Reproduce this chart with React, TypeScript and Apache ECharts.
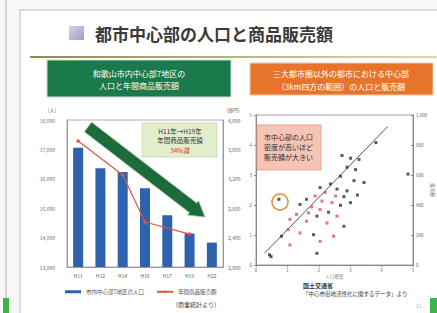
import React, { useEffect, useRef } from "react";
import * as echarts from "echarts";

const years = ["H11", "H12", "H14", "H16", "H17", "H19", "H22"];
const population = [17060, 16360, 16230, 15680, 14760, 14140, 13830];
const sales = [3714, null, 3252, 2612, null, 2448, null];
const popTicks = { min: 13000, max: 18000, interval: 1000 };
const salesTicks = { min: 2000, max: 4000, interval: 400 };

const scatterDark = [
  [3.82, 4.08], [2.74, 3.65], [3.01, 3.56], [3.28, 3.52], [2.9, 3.26], [3.17, 3.18],
  [2.69, 2.96], [4.84, 3.03], [3.12, 2.81], [3.44, 2.75], [2.37, 2.7], [2.04, 2.58],
  [2.58, 2.53], [2.9, 2.47], [2.8, 2.28], [3.23, 2.33], [1.61, 2.19], [3.01, 2.08],
  [2.69, 1.99], [1.4, 2.02], [2.31, 1.76], [1.94, 1.63], [2.8, 1.29], [1.83, 1.01],
  [0.81, 0.96], [1.94, 0.39], [0.43, 0.34], [0.48, 0.28], [0.73, 2.19],
];
const scatterPink = [
  [2.2, 2.42], [2.53, 2.3], [1.88, 2.3], [2.1, 2.13], [2.42, 2.08], [1.77, 1.94],
  [2.04, 1.85], [1.67, 1.74], [1.29, 1.69], [2.58, 1.63], [1.08, 1.52], [1.61, 1.46],
  [2.26, 1.4], [1.02, 1.18], [1.4, 1.07], [2.47, 0.96], [2.04, 0.79], [1.08, 0.67],
];
const trendLine = [[0.27, 0.39], [4.19, 4.61]];

const FONT = "'Noto Sans CJK JP', 'Noto Sans', sans-serif";

export default function App() {
  const ref = useRef<HTMLDivElement>(null);
  useEffect(() => {
    if (!ref.current) return;
    const chart = echarts.init(ref.current, null, { renderer: "svg" });
    const small = { fontSize: 5, color: "#666", fontFamily: FONT };
    chart.setOption({
      animation: false,
      backgroundColor: "#ffffff",
      textStyle: { fontFamily: FONT },
      legend: {
        left: 60,
        top: 284,
        itemWidth: 16,
        itemHeight: 3,
        itemGap: 12,
        textStyle: { fontSize: 5.5, color: "#555", fontFamily: FONT },
        data: [
          { name: "市内中心部7地区の人口", icon: "rect" },
          { name: "年間商品販売額" },
        ],
      },
      grid: [
        { left: 67, top: 120, width: 156, height: 147, show: true, borderColor: "#999", borderWidth: 0.8, backgroundColor: "#fff" },
        { left: 256, top: 115, width: 157, height: 150, show: true, borderColor: "#888", borderWidth: 0.8, backgroundColor: "#fff" },
      ],
      xAxis: [
        {
          type: "category", gridIndex: 0, data: years,
          axisLine: { lineStyle: { color: "#999" } }, axisTick: { show: false },
          axisLabel: { ...small, margin: 6 },
        },
        {
          type: "value", gridIndex: 1, min: 0, max: 5, interval: 1,
          axisLine: { lineStyle: { color: "#888" } }, axisTick: { length: 2 },
          splitLine: { show: false }, axisLabel: { ...small, fontSize: 4.5, margin: 3 },
          name: "人口密度", nameLocation: "middle", nameGap: 9,
          nameTextStyle: { fontSize: 4.5, color: "#777" },
        },
      ],
      yAxis: [
        {
          type: "value", gridIndex: 0, ...popTicks, name: "(人)", nameGap: 8,
          nameTextStyle: { fontSize: 5, color: "#666", padding: [0, 30, 0, 0] },
          axisLine: { show: true, lineStyle: { color: "#999" } }, axisTick: { show: false },
          splitLine: { show: false },
          axisLabel: { ...small, margin: 12, formatter: (v: number) => v.toLocaleString("en-US") },
        },
        {
          type: "value", gridIndex: 0, position: "right", ...salesTicks, name: "(億円)", nameGap: 8,
          nameTextStyle: { fontSize: 5, color: "#666", padding: [0, 0, 0, 20] },
          axisLine: { show: true, lineStyle: { color: "#999" } }, axisTick: { show: false },
          splitLine: { show: false },
          axisLabel: { ...small, margin: 5, formatter: (v: number) => v.toLocaleString("en-US") },
        },
        {
          type: "value", gridIndex: 1, min: 0, max: 5, interval: 1,
          axisLine: { show: true, lineStyle: { color: "#888" } }, axisTick: { length: 2 },
          splitLine: { show: false }, axisLabel: { ...small, fontSize: 4.5, margin: 4 },
        },
        {
          type: "value", gridIndex: 1, position: "right", min: 0, max: 5, interval: 1,
          axisLine: { show: true, lineStyle: { color: "#888" } }, axisTick: { length: 2, inside: true },
          splitLine: { show: false },
          axisLabel: { ...small, fontSize: 4.5, margin: 3, formatter: (v: number) => (v * 200).toLocaleString("en-US") },
          name: "販売額", nameLocation: "middle", nameGap: 14, nameRotate: -90,
          nameTextStyle: { fontSize: 4.5, color: "#777" },
        },
      ],
      series: [
        {
          name: "市内中心部7地区の人口", type: "bar", xAxisIndex: 0, yAxisIndex: 0,
          data: population, barWidth: 10,
          itemStyle: { color: "#2f62ad" },
        },
        {
          name: "年間商品販売額", type: "line", xAxisIndex: 0, yAxisIndex: 1,
          data: sales, connectNulls: true, symbol: "circle", symbolSize: 3.5,
          lineStyle: { color: "#e2553a", width: 1.2 }, itemStyle: { color: "#e2553a" },
          z: 5,
        },
        {
          type: "line", xAxisIndex: 1, yAxisIndex: 2, data: trendLine, symbol: "none",
          lineStyle: { color: "#444", width: 0.9 }, z: 2,
        },
        {
          type: "scatter", xAxisIndex: 1, yAxisIndex: 2, data: scatterDark, symbol: "rect",
          symbolSize: 3, itemStyle: { color: "#3b2b3b" }, z: 3,
        },
        {
          type: "scatter", xAxisIndex: 1, yAxisIndex: 2, data: scatterPink, symbol: "rect",
          symbolSize: 3, itemStyle: { color: "#e0487a" }, z: 3,
        },
      ],
      graphic: [
        // slide frame and neighbour slide edge
        { type: "rect", shape: { x: 0, y: 0, width: 437, height: 313 }, style: { fill: "#f7f7f7" }, z: -10 },
        { type: "rect", shape: { x: 20, y: 10, width: 420, height: 310 }, style: { fill: "#ffffff", stroke: "#cfcfcf", lineWidth: 1.5 }, z: -9 },
        { type: "line", shape: { x1: 6, y1: 0, x2: 6, y2: 313 }, style: { stroke: "#c8c8c8", lineWidth: 1.5 }, z: -8 },
        { type: "rect", shape: { x: 3, y: 298, width: 6, height: 15 }, style: { fill: "#3cb44a" } },
        { type: "rect", shape: { x: 430, y: 298, width: 7, height: 15 }, style: { fill: "#3cb44a" } },
        // title
        {
          type: "rect", shape: { x: 69, y: 26, width: 15, height: 14 },
          style: { fill: new echarts.graphic.LinearGradient(0, 0, 1, 1, [{ offset: 0, color: "#d8d0e8" }, { offset: 1, color: "#a898c8" }]) },
        },
        {
          type: "text", x: 95, y: 33,
          style: { text: "都市中心部の人口と商品販売額", fontSize: 17, fontWeight: "bold", fill: "#3a3a3a", fontFamily: FONT, verticalAlign: "middle" },
        },
        {
          type: "rect", shape: { x: 30, y: 56, width: 407, height: 2 },
          style: { fill: new echarts.graphic.LinearGradient(0, 0, 1, 0, [{ offset: 0, color: "#8c8c50" }, { offset: 1, color: "#d8dca8" }]) },
        },
        // green header box
        { type: "rect", shape: { x: 47, y: 60, width: 184, height: 37 }, style: { fill: "#1b7a4c", stroke: "#c8e0c8", lineWidth: 1 } },
        { type: "text", x: 139, y: 73, style: { text: "和歌山市内中心部7地区の", fontSize: 8, fill: "#ffffff", align: "center", verticalAlign: "middle", fontFamily: FONT } },
        { type: "text", x: 139, y: 85, style: { text: "人口と年間商品販売額", fontSize: 8, fill: "#ffffff", align: "center", verticalAlign: "middle", fontFamily: FONT } },
        // orange header box
        { type: "rect", shape: { x: 250, y: 63, width: 183, height: 32 }, style: { fill: "#e8742c", stroke: "#f6c8a0", lineWidth: 1 } },
        { type: "text", x: 341, y: 73, style: { text: "三大都市圏以外の都市における中心部", fontSize: 8, fill: "#ffffff", align: "center", verticalAlign: "middle", fontFamily: FONT } },
        { type: "text", x: 341, y: 86, style: { text: "（3km四方の範囲）の人口と販売額", fontSize: 8, fill: "#ffffff", align: "center", verticalAlign: "middle", fontFamily: FONT } },
        // arrow
        {
          type: "polygon", z: 10,
          shape: { points: [[91.6, 122.2], [196.7, 203.1], [198.6, 200.8], [205, 217], [187.6, 215.1], [189.5, 212.7], [84.4, 131.8]] },
          style: { fill: "#1d6a3a", stroke: "#9cc89c", lineWidth: 0.8 },
        },
        // left callout
        { type: "rect", z: 10, shape: { x: 142, y: 123, width: 75, height: 34 }, style: { fill: "#e2eecb", stroke: "#c4d6a2", lineWidth: 0.8 } },
        { type: "text", z: 11, x: 180, y: 131, style: { text: "H11年→H19年", fontSize: 6.5, fill: "#333", align: "center", verticalAlign: "middle", fontFamily: FONT } },
        { type: "text", z: 11, x: 180, y: 140, style: { text: "年間商品販売額", fontSize: 6.5, fill: "#333", align: "center", verticalAlign: "middle", fontFamily: FONT } },
        { type: "text", z: 11, x: 180, y: 150, style: { text: "34%減", fontSize: 6.5, fill: "#e03020", align: "center", verticalAlign: "middle", fontFamily: FONT } },
        // left source
        { type: "text", x: 220, y: 304, style: { text: "（商業統計より）", fontSize: 6, fill: "#444", align: "right", verticalAlign: "middle", fontFamily: FONT } },
        // scatter callout
        { type: "rect", z: 10, shape: { x: 257, y: 125, width: 64, height: 45 }, style: { fill: "#f5c4b4", stroke: "#e89a84", lineWidth: 0.8 } },
        { type: "text", z: 11, x: 264, y: 137, style: { text: "市中心部の人口", fontSize: 7, fill: "#333", verticalAlign: "middle", fontFamily: FONT } },
        { type: "text", z: 11, x: 264, y: 147, style: { text: "密度が高いほど", fontSize: 7, fill: "#333", verticalAlign: "middle", fontFamily: FONT } },
        { type: "text", z: 11, x: 264, y: 157, style: { text: "販売額が大きい", fontSize: 7, fill: "#333", verticalAlign: "middle", fontFamily: FONT } },
        { type: "circle", z: 10, shape: { cx: 280, cy: 202, r: 8 }, style: { fill: "none", stroke: "#e08a3a", lineWidth: 1.5 } },
        // right source
        { type: "text", x: 303, y: 285, style: { text: "国土交通省", fontSize: 6, fill: "#333", fontWeight: "bold", verticalAlign: "middle", fontFamily: FONT } },
        { type: "text", x: 303, y: 294, style: { text: "「中心市街地活性化に関するデータ」より", fontSize: 5.5, fill: "#333", verticalAlign: "middle", fontFamily: FONT } },
        { type: "text", x: 416, y: 305, style: { text: "11", fontSize: 5, fill: "#aaa", verticalAlign: "middle", fontFamily: FONT } },
      ],
    });
    return () => chart.dispose();
  }, []);
  return <div ref={ref} style={{ position: "fixed", left: 0, top: 0, width: 437, height: 313 }} />;
}
